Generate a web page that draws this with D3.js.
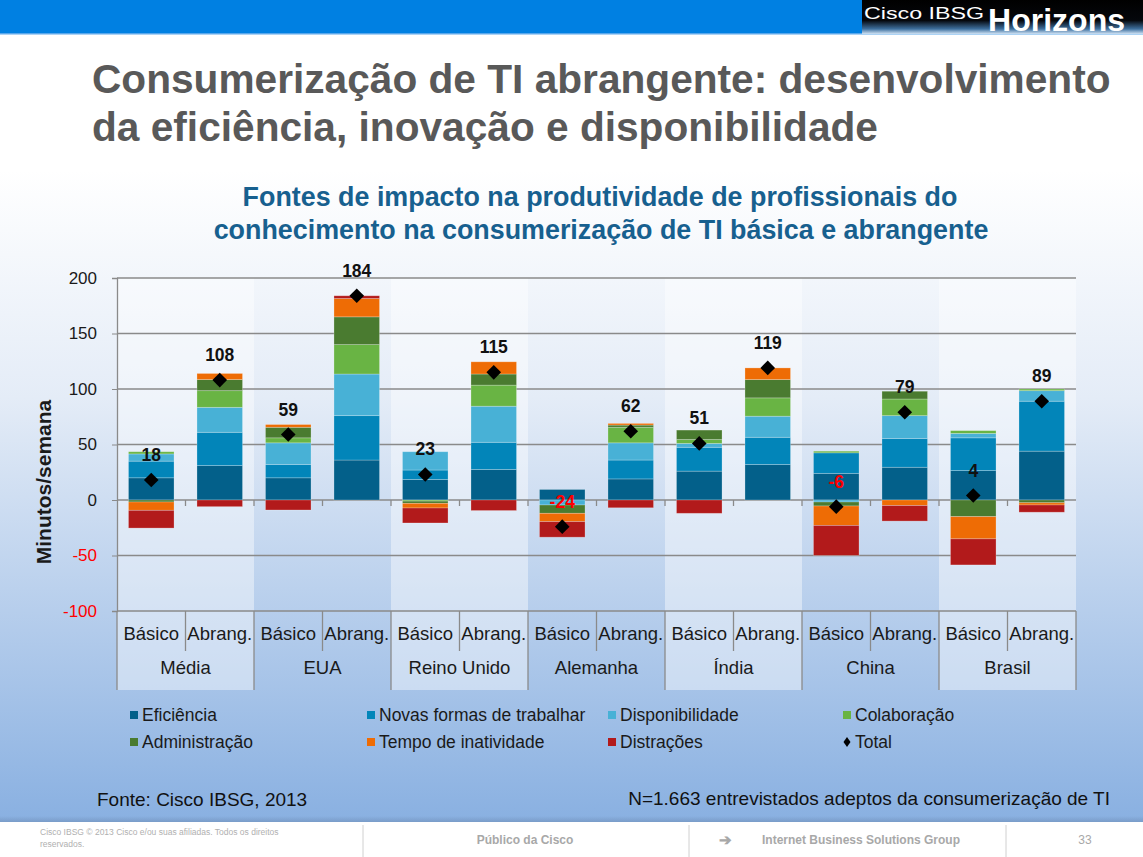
<!DOCTYPE html>
<html>
<head>
<meta charset="utf-8">
<script src="https://cdn.jsdelivr.net/npm/d3@7"></script>
<style>
html,body{margin:0;padding:0;background:#fff;}
svg{display:block;font-family:"Liberation Sans",Arial,sans-serif;}
</style>
</head>
<body>
<svg id="chart" width="1143" height="857"></svg>
<script>
// ---------- DATA ----------
const groups = ["Média","EUA","Reino Unido","Alemanha","Índia","China","Brasil"];
const levels = ["Básico","Abrang."];
const seriesNames = ["Eficiência","Novas formas de trabalhar","Disponibilidade","Colaboração","Administração","Tempo de inatividade","Distrações"];
const eficiencia       = [20, 31, 20, 36, 18.5, 27.5, 9.5, 19, 26, 32, 24, 29.5, 26.5, 44];
const novasFormas      = [15, 30, 12, 40, 8.5, 24.5, 0, 17, 21.5, 24.5, 18.5, 26, 29.5, 45];
const disponibilidade  = [6.5, 22.5, 19.5, 37.5, 16.5, 32.5, -4.5, 15.5, 3.5, 19, -1.8, 20.5, 4, 9.5];
const colaboracao      = [2, 15, 4.5, 26.5, -1, 19, 0, 14, 3.5, 16.5, 1.5, 15, 2.5, 1.5];
const administracao    = [-1.8, 10, 9.5, 25, -2, 10, -7.5, 2, 8.5, 16.5, -3.6, 7, -15, -2.5];
const tempoInatividade = [-7.5, 5.5, 2.5, 16.5, -4.2, 11, -7.5, 1.5, 0, 10.5, -17.5, -5, -20, -2];
const distracoes       = [-16, -6, -9, 2.5, -13.5, -9.5, -14, -7, -12, 0, -27, -14, -23.5, -6.5];
const total            = [18, 108, 59, 184, 23, 115, -24, 62, 51, 119, -6, 79, 4, 89];
const yTicks = [-100, -50, 0, 50, 100, 150, 200];
const colors = ["#03608a","#0285b9","#48b1d6","#69b444","#4a7b30","#ee6c05","#b21a1b"];

// ---------- BUILD TABLE ----------
const seriesArrays = [eficiencia, novasFormas, disponibilidade, colaboracao, administracao, tempoInatividade, distracoes];
const rows = [];
groups.forEach((g, gi) => levels.forEach((l, li) => {
  const i = gi * 2 + li;
  const r = {key: g + "|" + l, group: g, level: l, i: i, total: total[i]};
  seriesNames.forEach((s, si) => r[s] = seriesArrays[si][i]);
  rows.push(r);
}));

const svg = d3.select("#chart");
const W = 1143, H = 857;
const defs = svg.append("defs");

// background gradient
const bg = defs.append("linearGradient").attr("id","bg")
  .attr("gradientUnits","userSpaceOnUse").attr("x1",0).attr("x2",0).attr("y1",170).attr("y2",822);
bg.append("stop").attr("offset",0).attr("stop-color","#ffffff");
bg.append("stop").attr("offset",0.35).attr("stop-color","#e4ecf7");
bg.append("stop").attr("offset",1).attr("stop-color","#89b0e1");
svg.append("rect").attr("width",W).attr("height",H).attr("fill","url(#bg)");

// header
svg.append("rect").attr("x",0).attr("y",0).attr("width",W).attr("height",33).attr("fill","#0080e2");
svg.append("rect").attr("x",0).attr("y",33).attr("width",W).attr("height",1.5).attr("fill","#5aa8ec");
const lg = defs.append("linearGradient").attr("id","logo").attr("x1",0).attr("y1",0).attr("x2",0).attr("y2",1);
lg.append("stop").attr("offset",0).attr("stop-color","#000000");
lg.append("stop").attr("offset",0.6).attr("stop-color","#05070c");
lg.append("stop").attr("offset",0.85).attr("stop-color","#3d6f9e");
lg.append("stop").attr("offset",1).attr("stop-color","#cfe2f4");
svg.append("rect").attr("x",862).attr("y",0).attr("width",W-862).attr("height",34).attr("fill","url(#logo)");
svg.append("text").attr("x",864).attr("y",19).attr("fill","#fff").attr("font-size",16)
  .attr("textLength",120).attr("lengthAdjust","spacingAndGlyphs").text("Cisco IBSG");
svg.append("text").attr("x",988).attr("y",30.5).attr("fill","#fff").attr("font-size",32).attr("font-weight","bold")
  .attr("textLength",137).attr("lengthAdjust","spacingAndGlyphs").text("Horizons");

// title
function fit(sel, w){ const n = sel.node(); const cur = n.getComputedTextLength(); const fs = +sel.attr("font-size"); sel.attr("font-size", fs * w / cur); }
const t1 = svg.append("text").attr("x",92).attr("y",93).attr("fill","#595959").attr("font-weight","bold").attr("font-size",38)
  .text("Consumerização de TI abrangente: desenvolvimento");
fit(t1, 1019);
svg.append("text").attr("x",92).attr("y",141).attr("fill","#595959").attr("font-weight","bold").attr("font-size",t1.attr("font-size"))
  .text("da eficiência, inovação e disponibilidade");

// subtitle
const s1 = svg.append("text").attr("x",600).attr("y",206).attr("text-anchor","middle").attr("fill","#17608f").attr("font-weight","bold").attr("font-size",24)
  .text("Fontes de impacto na produtividade de profissionais do");
fit(s1, 715);
svg.append("text").attr("x",601).attr("y",239).attr("text-anchor","middle").attr("fill","#17608f").attr("font-weight","bold").attr("font-size",s1.attr("font-size"))
  .text("conhecimento na consumerização de TI básica e abrangente");

// ---------- SCALES ----------
const x0 = 117, x1 = 1076;
const x = d3.scaleBand().domain(rows.map(d => d.key)).range([x0, x1]).paddingInner(0.335).paddingOuter(0.1675);
const step = x.step();
const y = d3.scaleLinear().domain([-100, 200]).range([611, 278]);

// group bands (light columns)
groups.forEach((g, gi) => {
  if (gi % 2 === 0) {
    svg.append("rect").attr("x", x0 + gi * 2 * step).attr("y", 278).attr("width", 2 * step).attr("height", 690 - 278)
      .attr("fill","#ffffff").attr("fill-opacity",0.42);
  }
});

// gridlines
svg.append("g").selectAll("line").data(yTicks).join("line")
  .attr("x1",x0).attr("x2",x1).attr("y1",d => y(d)).attr("y2",d => y(d))
  .attr("stroke","#8a8a8a").attr("stroke-width",1.3);

// y axis
const yAxis = svg.append("g").attr("transform",`translate(${x0},0)`)
  .call(d3.axisLeft(y).tickValues(yTicks).tickSize(5).tickPadding(15).tickFormat(d => String(d)));
yAxis.select(".domain").attr("stroke","#8a8a8a").attr("stroke-width",1.3);
yAxis.selectAll(".tick line").attr("stroke","#8a8a8a");
yAxis.selectAll(".tick text").attr("font-size",17).attr("font-family","'Liberation Sans',Arial")
  .attr("fill", d => d < 0 ? "#ff0000" : "#1a1a1a");
svg.append("text").attr("transform","translate(51,482) rotate(-90)").attr("text-anchor","middle")
  .attr("font-weight","bold").attr("font-size",21).attr("fill","#1a1a1a").text("Minutos/semana");

// ---------- BARS ----------
const stack = d3.stack().keys(seriesNames).offset(d3.stackOffsetDiverging);
const stacked = stack(rows);
svg.append("g").selectAll("g").data(stacked).join("g").attr("fill",(d,i) => colors[i])
  .selectAll("rect").data(d => d).join("rect")
  .attr("x", d => x(d.data.key)).attr("width", x.bandwidth())
  .attr("y", d => y(Math.max(d[0], d[1]))).attr("height", d => Math.abs(y(d[0]) - y(d[1])))
  .attr("stroke","#ffffff").attr("stroke-opacity",0.3).attr("stroke-width",0.8);

// category ticks on zero line
const bounds = d3.range(1, rows.length).map(i => x0 + i * step);
svg.append("g").selectAll("line").data(bounds).join("line")
  .attr("x1",d => d).attr("x2",d => d).attr("y1",y(0)).attr("y2",y(0) + 6)
  .attr("stroke","#8a8a8a").attr("stroke-width",1.3);

// category axis (two levels)
const catG = svg.append("g");
const allBounds = d3.range(0, rows.length + 1).map(i => ({x: x0 + i * step, major: i % 2 === 0}));
catG.selectAll("line").data(allBounds).join("line")
  .attr("x1",d => d.x).attr("x2",d => d.x).attr("y1",611).attr("y2",d => d.major ? 690 : 651)
  .attr("stroke","#8a8a8a").attr("stroke-width",1.3);
catG.selectAll("text.lvl").data(rows).join("text").attr("class","lvl")
  .attr("x", d => x(d.key) + x.bandwidth() / 2).attr("y", 640).attr("text-anchor","middle")
  .attr("font-size",18.5).attr("fill","#1a1a1a").text(d => d.level);
catG.selectAll("text.grp").data(groups).join("text").attr("class","grp")
  .attr("x", (d, gi) => x0 + (gi * 2 + 1) * step).attr("y", 674).attr("text-anchor","middle")
  .attr("font-size",18.5).attr("fill","#1a1a1a").text(d => d);

// ---------- TOTAL MARKERS & LABELS ----------
const diamond = "M0,-7.3L7.3,0L0,7.3L-7.3,0Z";
svg.append("g").selectAll("path").data(rows).join("path")
  .attr("transform", d => `translate(${x(d.key) + x.bandwidth() / 2},${y(d.total)})`)
  .attr("d", diamond).attr("fill","#000");
svg.append("g").selectAll("text").data(rows).join("text")
  .attr("x", d => x(d.key) + x.bandwidth() / 2).attr("y", d => y(d.total) - 19)
  .attr("text-anchor","middle").attr("font-weight","bold").attr("font-size",17.5)
  .attr("fill", d => d.total < 0 ? "#ff0000" : "#111").text(d => d.total);

// ---------- LEGEND ----------
const legendItems = seriesNames.map((s, i) => ({name: s, color: colors[i], type: "sq"}))
  .concat([{name: "Total", color: "#000", type: "dia"}]);
const legendCols = [130, 367, 608, 843];
const legendRows = [715, 742];
const lgG = svg.append("g");
legendItems.forEach((it, idx) => {
  const lx = legendCols[idx % 4], ly = legendRows[Math.floor(idx / 4)];
  if (it.type === "sq") {
    lgG.append("rect").attr("x", lx).attr("y", ly - 4).attr("width", 8).attr("height", 8).attr("fill", it.color);
  } else {
    lgG.append("path").attr("transform", `translate(${lx + 4},${ly})`).attr("d","M0,-5L3.5,0L0,5L-3.5,0Z").attr("fill","#000");
  }
  lgG.append("text").attr("x", lx + 12).attr("y", ly + 6).attr("font-size",17.5).attr("fill","#1a1a1a").text(it.name);
});

// sources
svg.append("text").attr("x",97).attr("y",806).attr("font-size",19).attr("fill","#111").text("Fonte: Cisco IBSG, 2013");
svg.append("text").attr("x",1110).attr("y",805).attr("text-anchor","end").attr("font-size",19).attr("fill","#111")
  .text("N=1.663 entrevistados adeptos da consumerização de TI");

// ---------- FOOTER ----------
const sh = defs.append("linearGradient").attr("id","sh").attr("x1",0).attr("y1",0).attr("x2",0).attr("y2",1);
sh.append("stop").attr("offset",0).attr("stop-color","#6f8fb8").attr("stop-opacity",0.0);
sh.append("stop").attr("offset",1).attr("stop-color","#6f8fb8").attr("stop-opacity",0.6);
svg.append("rect").attr("x",0).attr("y",816).attr("width",W).attr("height",6).attr("fill","url(#sh)");
svg.append("rect").attr("x",0).attr("y",822).attr("width",W).attr("height",H - 822).attr("fill","#ffffff");
[363, 689, 1006].forEach(vx => svg.append("line").attr("x1",vx).attr("x2",vx).attr("y1",825).attr("y2",857)
  .attr("stroke","#d0d0d0").attr("stroke-width",1));
svg.append("text").attr("x",40).attr("y",835).attr("font-size",8.5).attr("fill","#b0b0b0")
  .text("Cisco IBSG © 2013 Cisco e/ou suas afiliadas. Todos os direitos");
svg.append("text").attr("x",40).attr("y",847).attr("font-size",8.5).attr("fill","#b0b0b0").text("reservados.");
svg.append("text").attr("x",525).attr("y",844).attr("text-anchor","middle").attr("font-size",12).attr("font-weight","bold")
  .attr("fill","#a8a8a8").text("Público da Cisco");
svg.append("text").attr("x",719).attr("y",845).attr("font-size",15).attr("font-weight","bold").attr("fill","#a8a8a8").text("➔");
svg.append("text").attr("x",762).attr("y",844).attr("font-size",12).attr("font-weight","bold")
  .attr("fill","#a8a8a8").text("Internet Business Solutions Group");
svg.append("text").attr("x",1085).attr("y",844).attr("text-anchor","middle").attr("font-size",12)
  .attr("fill","#a8a8a8").text("33");
</script>
</body>
</html>
